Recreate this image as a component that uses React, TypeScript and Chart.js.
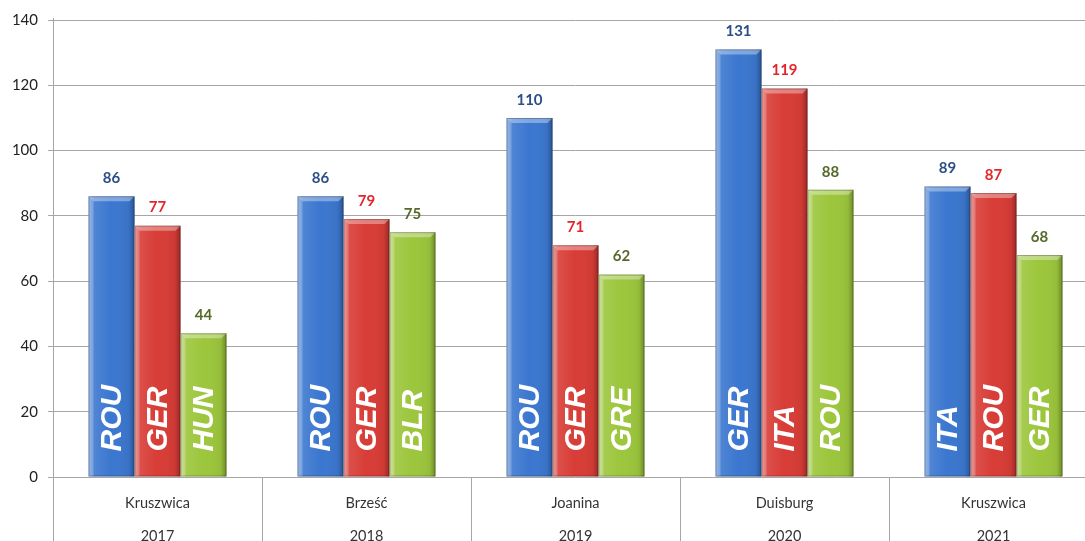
import React, { useEffect, useRef } from "react";
import { Chart, registerables } from "chart.js";
Chart.register(...registerables);

const cities = ["Kruszwica", "Brześć", "Joanina", "Duisburg", "Kruszwica"];
const years = ["2017", "2018", "2019", "2020", "2021"];
const firstValues = [86, 86, 110, 131, 89];
const secondValues = [77, 79, 71, 119, 87];
const thirdValues = [44, 75, 62, 88, 68];
const firstTeams = ["ROU", "ROU", "ROU", "GER", "ITA"];
const secondTeams = ["GER", "GER", "GER", "ITA", "ROU"];
const thirdTeams = ["HUN", "BLR", "GRE", "ROU", "GER"];
const yMin = 0;
const yMax = 140;
const yStep = 20;

const barColors = ["#3b77cf", "#d83c36", "#9cc63c"];
const valueColors = ["#2c4f86", "#e3262b", "#56692a"];
const teamLists = [firstTeams, secondTeams, thirdTeams];

const decorPlugin = {
  id: "decor",
  afterDatasetsDraw(chart: any) {
    const ctx = chart.ctx;
    chart.data.datasets.forEach((ds: any, di: number) => {
      const meta = chart.getDatasetMeta(di);
      meta.data.forEach((bar: any, i: number) => {
        const { x, y, base, width } = bar.getProps(["x", "y", "base", "width"], true);
        const l = x - width / 2;
        const h = base - y;
        ctx.save();
        const g = ctx.createLinearGradient(l, 0, l + width, 0);
        g.addColorStop(0, "rgba(255,255,255,0.38)");
        g.addColorStop(0.12, "rgba(255,255,255,0.10)");
        g.addColorStop(0.5, "rgba(255,255,255,0)");
        g.addColorStop(0.88, "rgba(0,0,0,0.05)");
        g.addColorStop(1, "rgba(0,0,0,0.30)");
        ctx.fillStyle = g;
        ctx.fillRect(l, y, width, h);
        const bv = 5;
        ctx.beginPath();
        ctx.moveTo(l, y);
        ctx.lineTo(l + width, y);
        ctx.lineTo(l + width - bv, y + bv);
        ctx.lineTo(l + bv, y + bv);
        ctx.closePath();
        ctx.fillStyle = "rgba(255,255,255,0.35)";
        ctx.fill();
        ctx.beginPath();
        ctx.moveTo(l, y);
        ctx.lineTo(l + bv, y + bv);
        ctx.lineTo(l + bv, base);
        ctx.lineTo(l, base);
        ctx.closePath();
        ctx.fillStyle = "rgba(255,255,255,0.18)";
        ctx.fill();
        ctx.strokeStyle = "rgba(0,0,0,0.25)";
        ctx.lineWidth = 1;
        ctx.strokeRect(l + 0.5, y + 0.5, width - 1, h - 1);
        ctx.fillStyle = valueColors[di];
        ctx.font = "bold 15px Lato";
        ctx.textAlign = "center";
        ctx.textBaseline = "middle";
        ctx.fillText(String(ds.data[i]), x, y - 18);
        ctx.translate(x, base - 25);
        ctx.rotate(-Math.PI / 2);
        ctx.fillStyle = "#ffffff";
        ctx.font = "italic bold 30px 'Liberation Sans'";
        ctx.textAlign = "left";
        ctx.textBaseline = "middle";
        ctx.fillText(teamLists[di][i], 0, 1);
        ctx.restore();
      });
    });
  },
  afterDraw(chart: any) {
    const ctx = chart.ctx;
    const xs = chart.scales.x;
    const area = chart.chartArea;
    const n = chart.data.labels.length;
    const half = (xs.getPixelForTick(1) - xs.getPixelForTick(0)) / 2;
    ctx.save();
    ctx.strokeStyle = "#a6a6a6";
    ctx.lineWidth = 1;
    ctx.beginPath();
    ctx.moveTo(Math.round(area.left) + 0.5, area.top - 2);
    ctx.lineTo(Math.round(area.left) + 0.5, chart.height);
    for (let i = 0; i < n; i++) {
      const bx = Math.round(xs.getPixelForTick(i) + half) + 0.5;
      ctx.moveTo(bx, area.bottom);
      ctx.lineTo(bx, chart.height);
    }
    ctx.stroke();
    ctx.restore();
  },
};

export default function App() {
  const ref = useRef<HTMLCanvasElement>(null);
  useEffect(() => {
    const labels = cities.map((c, i) => [c, years[i]]);
    const chart = new Chart(ref.current as HTMLCanvasElement, {
      type: "bar",
      data: {
        labels,
        datasets: [firstValues, secondValues, thirdValues].map((d, i) => ({
          label: "place " + (i + 1),
          data: d,
          backgroundColor: barColors[i],
          borderWidth: 0,
          barPercentage: 1,
          categoryPercentage: 0.66,
        })),
      },
      options: {
        responsive: true,
        maintainAspectRatio: false,
        animation: false,
        layout: { padding: { top: 20, right: 2, left: 0, bottom: 0 } },
        plugins: { legend: { display: false }, tooltip: { enabled: false } },
        scales: {
          x: {
            grid: { display: false },
            border: { display: false },
            ticks: {
              color: "#333333",
              font: { family: "Lato", size: 14.5, lineHeight: 2.28 },
              padding: 2,
              maxRotation: 0,
              autoSkip: false,
            },
            afterFit(scale: any) {
              scale.height = 64;
            },
          },
          y: {
            min: yMin,
            max: yMax,
            ticks: {
              stepSize: yStep,
              color: "#222222",
              font: { family: "Lato", size: 15 },
              padding: 10,
            },
            grid: { color: "#a6a6a6", lineWidth: 1, tickLength: 5 },
            border: { display: false },
            afterFit(scale: any) {
              scale.width = 53;
            },
          },
        },
      },
      plugins: [decorPlugin],
    });
    return () => chart.destroy();
  }, []);
  return (
    <div style={{ position: "fixed", left: 0, top: 0, width: 1085, height: 541, overflow: "hidden", background: "#fff" }}>
      <div style={{ width: 1100, height: 541, position: "relative" }}>
        <canvas ref={ref} />
      </div>
    </div>
  );
}
